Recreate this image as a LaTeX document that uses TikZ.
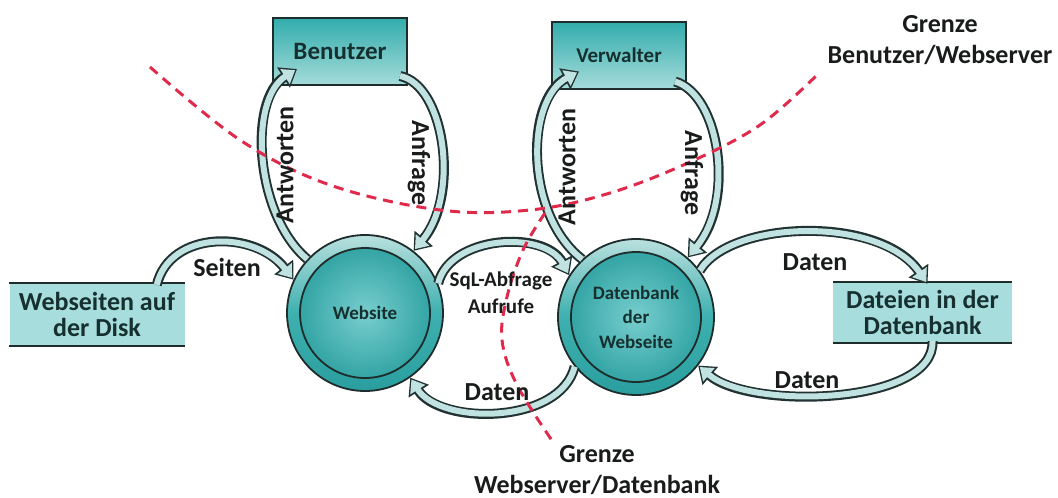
\documentclass[tikz,border=0pt]{standalone}
\usepackage{fontspec}
\setmainfont{Carlito}
\usetikzlibrary{arrows.meta,calc,shadings}

\definecolor{ink}{RGB}{26,28,28}
\definecolor{boxink}{RGB}{22,48,48}
\definecolor{edge}{RGB}{30,44,44}
\definecolor{boxtop}{RGB}{50,172,172}
\definecolor{boxbot}{RGB}{165,220,218}
\definecolor{ringtop}{RGB}{185,224,222}
\definecolor{ringmid}{RGB}{62,176,176}
\definecolor{ringbot}{RGB}{42,158,158}
\definecolor{diskin}{RGB}{120,206,206}
\definecolor{diskout}{RGB}{38,156,156}
\definecolor{storefill}{RGB}{168,221,221}
\definecolor{bandfill}{RGB}{192,226,224}
\definecolor{bandedge}{RGB}{34,50,50}
\definecolor{bred}{RGB}{224,42,76}

\tikzset{
  actor/.style={draw=edge, line width=2pt, top color=boxtop, bottom color=boxbot,
    minimum width=134pt, minimum height=67pt, inner sep=0pt, text=boxink},
  hub/.style={circle, draw=edge, line width=1.8pt, minimum size=156pt, inner sep=0pt,
    top color=ringtop, bottom color=ringbot, middle color=ringmid,
    align=center, text=boxink, font=\fontsize{19}{24.5}\selectfont\bfseries,
    path picture={
      \shade[inner color=diskin, outer color=diskout]
        (path picture bounding box.center) circle (65pt);
      \draw[edge, line width=1.8pt] (path picture bounding box.center) circle (65pt);}},
  store/.style={fill=storefill, inner sep=0pt, align=center, text=boxink,
    font=\fontsize{26}{26}\selectfont\bfseries},
  storeline/.style={draw=edge, line width=2.2pt},
  flow/.style={draw=bandfill, line width=6pt, -{Triangle[length=12pt,width=17pt]},
    shorten >=2.2pt,
    preaction={draw=bandedge, line width=10pt, -{Triangle[length=16pt,width=23pt]},
      shorten >=0pt}},
  lbl/.style={font=\fontsize{26}{30}\selectfont\bfseries, text=ink, inner sep=0pt},
  small/.style={font=\fontsize{21}{27}\selectfont\bfseries, text=ink, inner sep=0pt, align=center},
  boundary/.style={draw=bred, line width=3pt, dash pattern=on 10pt off 7pt},
  note/.style={font=\fontsize{26}{31}\selectfont\bfseries, text=ink, inner sep=0pt, align=center},
}

\begin{document}
\begin{tikzpicture}[x=1pt,y=-1pt]
\useasboundingbox (0,0) rectangle (1058,498);

% actors
\node[actor, font=\fontsize{25}{30}\selectfont\bfseries] (ben) at (340,51.5) {Benutzer};
\node[actor, font=\fontsize{21}{26}\selectfont\bfseries] (ver) at (619,55) {Verwalter};

% processes
\node[hub] (web) at (365,313) {Website};
\node[hub] (db) at (636,317) {Datenbank\\der\\Webseite};

% data stores
\node[store, minimum width=175pt, minimum height=63pt] (disk) at (97,314.5) {Webseiten auf\\der Disk};
\draw[storeline] (disk.north west) -- (disk.north east);
\draw[storeline] (disk.south west) -- (disk.south east);
\node[store, minimum width=179pt, minimum height=61pt] (files) at (922.5,312.5) {Dateien in der\\Datenbank};
\draw[storeline] (files.north west) -- (files.north east);
\draw[storeline] (files.south west) -- (files.south east);

% flows
\draw[flow] (web.137) .. controls (255,215) and (248,100) .. ($(ben.south west)+(25,-17)$);
\draw[flow] ($(ben.south east)+(-8,-10)$) .. controls (445,85) and (460,195) .. (web.52);
\draw[flow] ($(disk.north west)+(147.5,2)$) .. controls (170,230) and (255,230) .. (web.155);
\draw[flow] (web.22) .. controls (450,235) and (545,230) .. (db.148);
\draw[flow] (db.219) .. controls (560,425) and (440,425) .. (web.305);
\draw[flow] (db.36) .. controls (730,220) and (880,215) .. ($(files.north)+(5,2)$);
\draw[flow] ($(files.south)+(10,-2)$) .. controls (935,405) and (750,410) .. (db.322);
\draw[flow] (db.133) .. controls (525,215) and (525,100) .. ($(ver.south west)+(28,-18)$);
\draw[flow] ($(ver.south east)+(-12,-8)$) .. controls (720,95) and (735,200) .. (db.49);

% trust boundaries
\draw[boundary] plot[smooth, tension=0.6] coordinates
  {(150,67) (240,140) (330,185) (440,210) (530,210) (610,193) (690,162) (760,125) (817,75)};
\draw[boundary] plot[smooth, tension=0.6] coordinates
  {(545,213) (523,250) (507,297) (502,340) (517,385) (553,442)};

% flow labels
\node[lbl, rotate=90] (l1) at (285,165) {Antworten};
\node[lbl, rotate=-90] (l2) at (419,163) {Anfrage};
\node[lbl] (l3) at (227,267) {Seiten};
\node[small] (l4) at (501,293) {SqL-Abfrage\\Aufrufe};
\node[lbl] (l5) at (497,392) {Daten};
\node[lbl, rotate=90] (l6) at (567,167) {Antworten};
\node[lbl, rotate=-90] (l7) at (692,173) {Anfrage};
\node[lbl] (l8) at (815,262) {Daten};
\node[lbl] (l9) at (807,380) {Daten};

% boundary captions
\node[note] (n1) at (940,40) {Grenze\\Benutzer/Webserver};
\node[note] (n2) at (597,470) {Grenze\\Webserver/Datenbank};
\end{tikzpicture}
\end{document}
